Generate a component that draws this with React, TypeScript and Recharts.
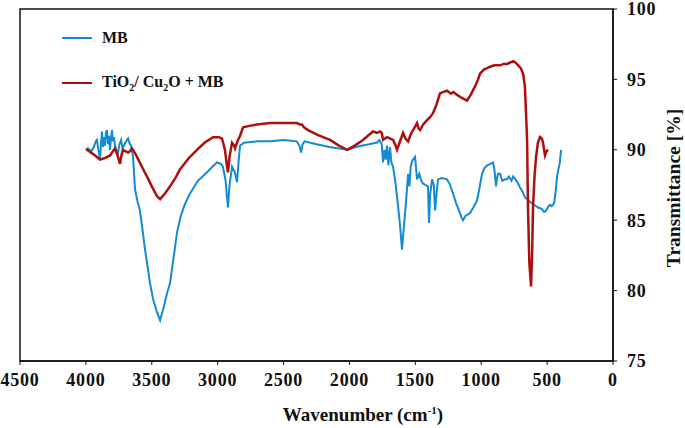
import { LineChart, Line, XAxis, YAxis, ReferenceArea } from "recharts";

const xTicks = [0, 500, 1000, 1500, 2000, 2500, 3000, 3500, 4000, 4500];
const yTicks = [75, 80, 85, 90, 95, 100];

// MB (blue) spectrum, wavenumber -> transmittance
const mbWavenumber = [
  4000, 3985, 3960, 3940, 3925, 3916, 3905, 3893, 3885, 3878, 3870, 3862, 3855, 3848, 3840, 3832, 3825,
  3817, 3810, 3802, 3795, 3787, 3779, 3768, 3756, 3745, 3733, 3722, 3711, 3695, 3680, 3670, 3658, 3642,
  3627, 3610, 3590, 3570, 3551, 3530, 3513, 3490, 3465, 3437, 3410, 3385, 3362, 3335, 3309, 3280, 3250,
  3210, 3150, 3081, 3040, 3005, 2975, 2960, 2940, 2922, 2910, 2891, 2870, 2853, 2840, 2830, 2800, 2700,
  2600, 2500, 2400, 2380, 2367, 2355, 2340, 2250, 2150, 2080, 2011, 1950, 1900, 1850, 1800, 1790, 1775,
  1768, 1755, 1745, 1735, 1725, 1715, 1705, 1692, 1682, 1669, 1650, 1631, 1615, 1601, 1590, 1578, 1565,
  1555, 1545, 1535, 1525, 1510, 1502, 1487, 1470, 1455, 1442, 1420, 1404, 1396, 1388, 1373, 1360, 1350,
  1340, 1328, 1300, 1260, 1240, 1214, 1190, 1161, 1150, 1138, 1120, 1085, 1060, 1032, 1015, 994, 975,
  956, 930, 910, 900, 888, 880, 872, 857, 840, 820, 804, 790, 770, 758, 740, 720, 705, 690, 667, 650,
  630, 600, 569, 540, 525, 516, 500, 490, 478, 465, 447, 440, 432, 425, 415, 405, 394,
];
const mbTransmittance = [
  90.0, 90.1, 89.9, 90.2, 90.6, 90.7, 90.0, 89.3, 90.5, 91.3, 90.2, 90.9, 90.3, 91.2, 91.4, 90.4, 91.0,
  90.0, 90.8, 91.4, 90.6, 90.9, 90.3, 89.9, 89.8, 90.4, 90.7, 90.1, 90.3, 90.6, 90.8, 90.5, 90.3, 89.5,
  87.2, 86.4, 85.7, 84.3, 82.9, 81.6, 80.5, 79.4, 78.6, 77.9, 78.8, 79.8, 80.5, 82.3, 84.1, 85.3, 86.1,
  86.9, 87.8, 88.4, 88.8, 89.1, 89.0, 88.8, 87.8, 85.9, 87.5, 88.8, 88.4, 87.7, 89.3, 90.3, 90.5, 90.6,
  90.6, 90.7, 90.6, 90.3, 89.8, 90.4, 90.6, 90.4, 90.2, 90.1, 90.0, 90.2, 90.3, 90.4, 90.5, 90.5, 90.7,
  90.6, 90.4, 89.1, 90.0, 89.3, 90.3, 88.9, 90.2, 89.1, 88.8, 87.6, 86.0, 84.5, 82.9, 84.2, 85.5, 87.0,
  88.3, 87.4, 88.8, 89.2, 89.4, 89.5, 87.9, 88.3, 87.8, 87.6, 87.5, 87.4, 84.8, 86.8, 87.9, 87.5, 85.7,
  86.8, 87.9, 88.0, 87.9, 87.6, 86.9, 86.2, 85.5, 85.2, 85.0, 85.3, 85.5, 85.9, 86.4, 87.2, 88.3, 88.7,
  88.9, 89.0, 89.1, 88.6, 87.4, 88.0, 88.3, 88.3, 87.8, 87.9, 87.9, 88.1, 87.8, 88.1, 87.9, 87.6, 87.3,
  87.1, 86.6, 86.5, 86.3, 86.1, 85.9, 85.8, 85.6, 85.6, 85.8, 86.0, 86.1, 86.0, 86.2, 86.7, 87.3, 88.1,
  88.6, 89.0, 90.0,
];

// TiO2/Cu2O + MB (red) spectrum
const compWavenumber = [
  4000, 3992, 3960, 3930, 3893, 3860, 3817, 3795, 3779, 3760, 3741, 3728, 3718, 3700, 3680, 3665, 3650,
  3630, 3612, 3575, 3536, 3500, 3460, 3437, 3400, 3362, 3320, 3286, 3220, 3157, 3100, 3035, 2990, 2967,
  2945, 2930, 2922, 2910, 2891, 2875, 2868, 2850, 2830, 2807, 2760, 2701, 2600, 2504, 2440, 2398, 2375,
  2360, 2345, 2314, 2250, 2200, 2147, 2080, 2018, 1960, 1897, 1860, 1821, 1790, 1768, 1755, 1745, 1730,
  1715, 1690, 1669, 1650, 1639, 1620, 1593, 1575, 1555, 1530, 1505, 1487, 1475, 1464, 1440, 1411, 1390,
  1366, 1340, 1313, 1290, 1260, 1230, 1210, 1184, 1150, 1108, 1080, 1047, 1024, 1009, 980, 955, 933,
  900, 857, 830, 804, 780, 758, 740, 720, 700, 682, 670, 667, 660, 652, 645, 635, 622, 614, 607, 595,
  584, 570, 554, 540, 531, 520, 516, 505, 493,
];
const compTransmittance = [
  90.0, 90.0, 89.8, 89.6, 89.3, 89.4, 89.6, 89.9, 90.1, 89.6, 89.0, 89.7, 90.0, 89.9, 89.8, 89.9, 90.1,
  89.8, 89.5, 88.8, 88.1, 87.4, 86.7, 86.5, 86.9, 87.4, 88.0, 88.6, 89.4, 90.0, 90.5, 90.9, 90.9, 90.8,
  90.0, 88.9, 88.4, 89.5, 90.5, 90.3, 90.1, 90.6, 91.0, 91.6, 91.7, 91.8, 91.9, 91.9, 91.9, 91.9, 91.8,
  91.8, 91.6, 91.4, 91.1, 90.9, 90.7, 90.3, 90.0, 90.3, 90.7, 91.0, 91.3, 91.2, 91.3, 91.2, 90.7, 90.8,
  90.9, 90.8, 90.7, 90.3, 90.0, 90.5, 91.2, 90.8, 90.6, 91.2, 91.6, 91.9, 91.5, 91.4, 91.8, 92.1, 92.3,
  92.6, 93.2, 94.0, 94.1, 94.2, 94.0, 94.1, 93.9, 93.7, 93.5, 93.9, 94.5, 95.0, 95.4, 95.7, 95.8, 95.9,
  96.0, 96.0, 96.1, 96.1, 96.2, 96.3, 96.2, 96.0, 95.8, 95.4, 94.6, 94.2, 92.6, 90.7, 85.9, 82.0, 80.3,
  82.5, 85.9, 88.2, 89.5, 90.5, 90.9, 90.8, 90.5, 89.8, 89.6, 89.9, 90.0,
];

const mbData = mbWavenumber.map((wn, i) => ({ wn, t: mbTransmittance[i] }));
const compData = compWavenumber.map((wn, i) => ({ wn, t: compTransmittance[i] }));

const BLUE = "#138ad4";
const RED = "#ad0f0f";
const FONT = "'Liberation Serif', 'Times New Roman', serif";

const tickStyle = { fontFamily: FONT, fontWeight: 700, fontSize: 18, fill: "#111", letterSpacing: 0.8 };

// legend drawn as an overlay so it does not shrink the plot area
function LegendBox() {
  const row = { display: "flex", alignItems: "center", height: 20, marginBottom: 25 } as const;
  const swatch = (c: string) => (
    <span style={{ display: "inline-block", width: 30, height: 2.5, background: c, marginRight: 10 }} />
  );
  const txt = { fontFamily: FONT, fontWeight: 700, fontSize: 16, color: "#111", whiteSpace: "nowrap" } as const;
  return (
    <div style={{ position: "absolute", left: 62, top: 28 }}>
      <div style={row}>
        {swatch(BLUE)}
        <span style={txt}>MB</span>
      </div>
      <div style={row}>
        {swatch(RED)}
        <span style={txt}>
          TiO<sub style={{ fontSize: 10 }}>2</sub>/ Cu<sub style={{ fontSize: 10 }}>2</sub>O + MB
        </span>
      </div>
    </div>
  );
}

function XLabel() {
  return (
    <text x={363} y={421} textAnchor="middle" style={{ fontFamily: FONT, fontWeight: 700, fontSize: 19, fill: "#111" }}>
      Wavenumber (cm
      <tspan fontSize={11} dy={-7}>-1</tspan>
      <tspan dy={7}>)</tspan>
    </text>
  );
}

function YLabel() {
  return (
    <text
      x={680}
      y={188}
      transform="rotate(-90 680 188)"
      textAnchor="middle"
      style={{ fontFamily: FONT, fontWeight: 700, fontSize: 19.5, fill: "#111" }}
    >
      Transmittance [%]
    </text>
  );
}

export default function App() {
  return (
    <div style={{ position: "absolute", left: 0, top: 0, width: 685, height: 428, background: "#fff" }}>
      <LineChart width={685} height={428} margin={{ top: 9, right: 0, bottom: 0, left: 20 }}>
        <XAxis
          type="number"
          dataKey="wn"
          domain={[0, 4500]}
          ticks={xTicks}
          interval={0}
          reversed
          allowDataOverflow
          height={67}
          tick={tickStyle}
          tickSize={4}
          tickMargin={8}
          tickLine={{ stroke: "#111" }}
          axisLine={{ stroke: "#111", strokeWidth: 1.5 }}
          label={<XLabel />}
        />
        <YAxis
          orientation="right"
          type="number"
          domain={[75, 100]}
          ticks={yTicks}
          interval={0}
          width={72}
          tick={tickStyle}
          tickSize={4}
          tickMargin={10}
          tickLine={{ stroke: "#111" }}
          axisLine={{ stroke: "#111", strokeWidth: 1.5 }}
          label={<YLabel />}
        />
        <ReferenceArea x1={4500} x2={0} y1={75} y2={100} fill="none" stroke="#111" strokeWidth={1.5} ifOverflow="visible" />
        <Line
          data={mbData}
          dataKey="t"
          type="linear"
          stroke={BLUE}
          strokeWidth={2}
          dot={false}
          isAnimationActive={false}
        />
        <Line
          data={compData}
          dataKey="t"
          type="linear"
          stroke={RED}
          strokeWidth={2.5}
          dot={false}
          isAnimationActive={false}
        />
      </LineChart>
      <LegendBox />
    </div>
  );
}
